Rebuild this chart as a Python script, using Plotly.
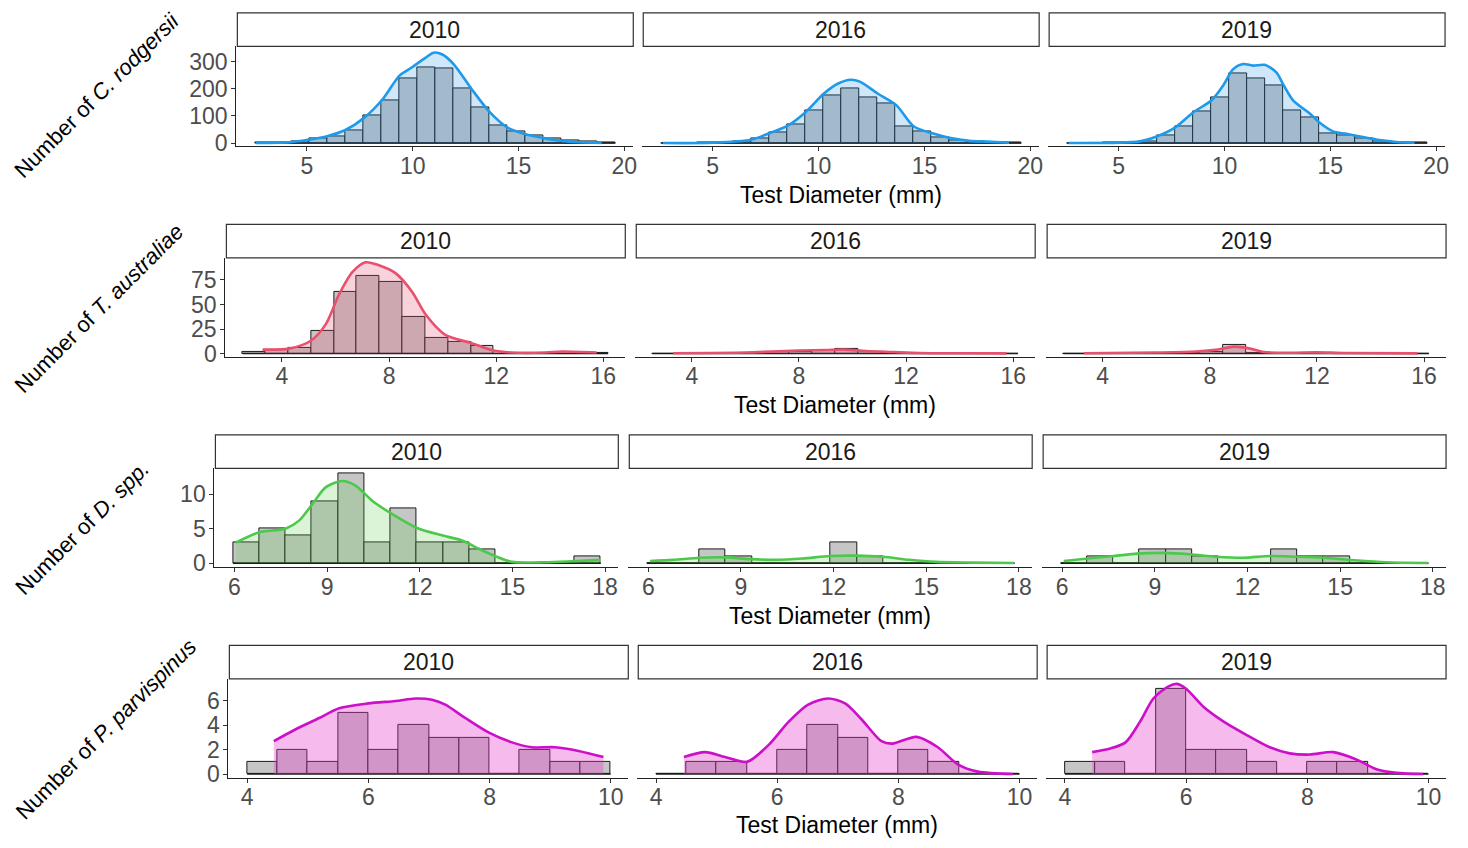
import numpy as np
import plotly.graph_objects as go

# ---------------------------------------------------------------- data
YEARS = ["2010", "2016", "2019"]
SPECIES = ["C. rodgersii", "T. australiae", "D. spp.", "P. parvispinus"]

# histogram bins: lower edge of first bin and bin width (mm)
C_BIN_START, C_BIN_WIDTH = 2.58, 0.85
T_BIN_START, T_BIN_WIDTH = 2.53, 0.853
D_BIN_START, D_BIN_WIDTH = 5.95, 0.851
P_BIN_START, P_BIN_WIDTH = 4.0, 0.5

# counts per bin
C_COUNTS_2010 = [1, 1, 4, 16, 24, 46, 101, 159, 237, 280, 277, 200, 133, 66, 44, 27, 17, 10, 5, 3]
C_COUNTS_2016 = [0, 0, 1, 2, 5, 18, 40, 69, 121, 176, 203, 170, 148, 63, 43, 22, 10, 5, 3, 2]
C_COUNTS_2019 = [0, 0, 1, 2, 6, 28, 61, 118, 170, 258, 239, 213, 122, 94, 34, 28, 18, 6, 2, 2]

T_COUNTS_2010 = [2, 4, 6, 23, 63, 79, 73, 37, 16, 12, 8, 0, 0, 0, 0, 1]
T_COUNTS_2016 = [0, 0, 0, 0, 0, 2, 2, 3, 5, 2, 1, 0, 0, 0, 0, 0]
T_COUNTS_2019 = [0, 0, 0, 0, 0, 1, 2, 9, 1, 0, 0, 1, 0, 0, 0, 0]

D_COUNTS_2010 = [3, 5, 4, 9, 13, 3, 8, 3, 3, 2, 0, 0, 0, 1]
D_COUNTS_2016 = [0, 0, 2, 1, 0, 0, 0, 3, 1, 0, 0, 0, 0, 0]
D_COUNTS_2019 = [0, 1, 0, 2, 2, 1, 0, 0, 2, 1, 1, 0, 0, 0]

P_COUNTS_2010 = [1, 2, 1, 5, 2, 4, 3, 3, 0, 2, 1, 1]
P_COUNTS_2016 = [0, 1, 1, 0, 2, 4, 3, 0, 2, 1, 0, 0]
P_COUNTS_2019 = [1, 1, 0, 7, 2, 2, 1, 0, 1, 1, 0, 0]

# kernel density scaled to counts (diameter, count)
C_DENS_X_2010 = [2.58, 4.2, 5.06, 5.96, 6.82, 7.69, 8.54, 9.39, 9.97, 10.6, 10.99, 11.38, 11.93, 12.78, 13.63, 14.48, 15.33, 16.2, 17.04, 17.89, 18.93]
C_DENS_Y_2010 = [0, 3, 12, 25, 48, 92, 158, 250, 280, 315, 334, 328, 292, 200, 115, 57, 32, 18, 8, 3, 0.5]
C_DENS_X_2016 = [2.64, 5.0, 6.81, 7.67, 8.54, 9.37, 10.24, 10.9, 11.52, 11.95, 12.81, 13.67, 14.5, 15.38, 16.24, 17.11, 17.97, 19.0]
C_DENS_Y_2016 = [0, 1, 12, 36, 64, 113, 182, 219, 234, 227, 182, 140, 61, 36, 18, 8, 5, 1]
C_DENS_X_2019 = [2.63, 6.0, 6.79, 7.66, 8.52, 9.39, 9.94, 10.41, 10.88, 11.35, 11.9, 12.45, 12.8, 13.24, 14.03, 14.53, 15.13, 15.75, 16.54, 17.33, 18.11, 18.98]
C_DENS_Y_2019 = [0, 6, 24, 57, 113, 158, 213, 273, 292, 286, 289, 261, 213, 158, 109, 73, 43, 34, 22, 11, 4, 1]

T_DENS_X_2010 = [3.28, 4.27, 5.08, 5.64, 6.13, 6.63, 7.13, 7.62, 8.24, 8.86, 9.36, 10.1, 11.03, 11.9, 12.58, 13.83, 14.45, 15.75]
T_DENS_Y_2010 = [4, 5, 13, 30, 60, 83, 93, 90, 82, 63, 40, 19, 11, 3, 1, 1, 2, 1]
T_DENS_X_2016 = [3.3, 6.0, 7.0, 8.0, 9.0, 9.7, 10.5, 11.5, 12.5, 14.0, 15.75]
T_DENS_Y_2016 = [0.3, 1, 2, 3, 3.5, 4, 2.5, 1.5, 0.5, 0.2, 0.1]
T_DENS_X_2019 = [3.3, 6.0, 7.5, 8.3, 8.9, 9.5, 10.0, 11.0, 12.0, 13.0, 15.75]
T_DENS_Y_2019 = [0.3, 1, 2, 4, 7, 5, 1.5, 0.8, 1.2, 0.5, 0.1]

D_DENS_X_2010 = [6.05, 6.81, 7.65, 8.1, 8.53, 8.96, 9.5, 9.93, 10.47, 11.11, 11.91, 12.75, 13.37, 13.91, 14.47, 14.99, 16.06, 16.92, 17.84]
D_DENS_Y_2010 = [3, 4.5, 5, 6.2, 8.6, 11, 11.9, 11.2, 9, 7.1, 5.1, 4, 3.3, 2.1, 1, 0.2, 0.15, 0.3, 0.5]
D_DENS_X_2016 = [6.05, 6.81, 7.67, 8.5, 9.28, 10.14, 11.0, 11.89, 12.73, 13.59, 14.45, 15.31, 16.49, 17.84]
D_DENS_Y_2016 = [0.33, 0.5, 0.8, 0.85, 0.6, 0.5, 0.7, 1.05, 1.1, 0.95, 0.5, 0.2, 0.1, 0.05]
D_DENS_X_2019 = [6.05, 6.81, 7.67, 8.42, 9.28, 10.14, 11.0, 11.86, 12.73, 13.59, 14.45, 15.31, 16.49, 17.84]
D_DENS_Y_2019 = [0.33, 0.7, 1.05, 1.4, 1.5, 1.3, 0.95, 0.8, 1.05, 0.95, 0.8, 0.5, 0.15, 0.05]

P_DENS_X_2010 = [4.44, 4.81, 5.19, 5.52, 6.0, 6.45, 6.78, 7.05, 7.27, 7.6, 7.99, 8.37, 8.7, 9.08, 9.47, 9.88]
P_DENS_Y_2010 = [2.7, 3.7, 4.6, 5.4, 5.8, 6.0, 6.2, 6.1, 5.7, 4.6, 3.4, 2.6, 2.2, 2.2, 1.9, 1.4]
P_DENS_X_2016 = [4.46, 4.81, 5.14, 5.5, 5.86, 6.19, 6.51, 6.84, 7.12, 7.39, 7.72, 7.9, 8.3, 8.65, 8.98, 9.31, 9.89]
P_DENS_Y_2016 = [1.4, 1.8, 1.4, 1.0, 2.4, 4.3, 5.7, 6.2, 5.8, 4.5, 2.7, 2.5, 3.05, 2.2, 0.8, 0.2, 0.0]
P_DENS_X_2019 = [4.45, 4.75, 5.0, 5.24, 5.46, 5.71, 5.85, 6.0, 6.29, 6.62, 7.0, 7.38, 7.71, 8.04, 8.43, 8.81, 9.14, 9.47, 9.91]
P_DENS_Y_2019 = [1.8, 2.1, 2.6, 4.3, 6.2, 7.2, 7.4, 7.0, 5.5, 4.3, 3.2, 2.2, 1.7, 1.6, 1.8, 1.2, 0.4, 0.1, 0.0]

X_TICKS = [[5, 10, 15, 20], [4, 8, 12, 16], [6, 9, 12, 15, 18], [4, 6, 8, 10]]
Y_TICKS = [[0, 100, 200, 300], [0, 25, 50, 75], [0, 5, 10], [0, 2, 4, 6]]

ROWS = [
    dict(start=C_BIN_START, width=C_BIN_WIDTH,
         counts=[C_COUNTS_2010, C_COUNTS_2016, C_COUNTS_2019],
         dens=[(C_DENS_X_2010, C_DENS_Y_2010), (C_DENS_X_2016, C_DENS_Y_2016), (C_DENS_X_2019, C_DENS_Y_2019)]),
    dict(start=T_BIN_START, width=T_BIN_WIDTH,
         counts=[T_COUNTS_2010, T_COUNTS_2016, T_COUNTS_2019],
         dens=[(T_DENS_X_2010, T_DENS_Y_2010), (T_DENS_X_2016, T_DENS_Y_2016), (T_DENS_X_2019, T_DENS_Y_2019)]),
    dict(start=D_BIN_START, width=D_BIN_WIDTH,
         counts=[D_COUNTS_2010, D_COUNTS_2016, D_COUNTS_2019],
         dens=[(D_DENS_X_2010, D_DENS_Y_2010), (D_DENS_X_2016, D_DENS_Y_2016), (D_DENS_X_2019, D_DENS_Y_2019)]),
    dict(start=P_BIN_START, width=P_BIN_WIDTH,
         counts=[P_COUNTS_2010, P_COUNTS_2016, P_COUNTS_2019],
         dens=[(P_DENS_X_2010, P_DENS_Y_2010), (P_DENS_X_2016, P_DENS_Y_2016), (P_DENS_X_2019, P_DENS_Y_2019)]),
]

# ---------------------------------------------------------------- style / layout
W, H = 1468, 848
FONT = "Liberation Sans, Arial, Helvetica, sans-serif"
TICK_SIZE = 23
TEXT_SIZE = 23
LINE_COLORS = ["#1E9AEB", "#E8506E", "#4CC94C", "#CC10C8"]
FILL_COLORS = ["rgba(40,145,230,0.22)", "rgba(232,80,110,0.25)",
               "rgba(90,200,70,0.22)", "rgba(230,60,200,0.35)"]
BAR_FILL = "#C6C6C6"

# panel geometry in pixels: x extents for the three panels, top and bottom
PANEL_X = [
    [(237, 635), (644, 1042), (1051, 1449)],
    [(226, 627), (637, 1038), (1049, 1450)],
    [(215, 620), (630, 1035), (1045, 1450)],
    [(229, 630), (639, 1040), (1049, 1450)],
]
PANEL_Y = [(47, 148), (261, 361), (474, 574), (687, 787)]
STRIP_H = 34
X_RANGES = [[1.67, 20.42], [1.89, 16.82], [5.35, 18.43], [3.69, 10.29]]
Y_RANGES = [[-12, 357], [-3.3, 97.5], [-0.57, 13.71], [-0.3, 7.81]]
YTITLE_POS = [(97, 97), (99, 312), (83, 534), (106, 738)]
XTITLE_Y = [197, 410, 623, 835]


def px(x):
    return x / W


def py(y):
    return 1 - y / H


fig = go.Figure()
layout = dict(
    width=W, height=H, margin=dict(l=0, r=0, t=0, b=0),
    paper_bgcolor="white", plot_bgcolor="white",
    showlegend=False, font=dict(family=FONT, color="#000000"),
    bargap=0, barmode="overlay",
)
shapes, annotations = [], []

for r, row in enumerate(ROWS):
    top, bottom = PANEL_Y[r]
    for c in range(3):
        n = r * 3 + c + 1
        xa, ya = f"x{n}", f"y{n}"
        left, right = PANEL_X[r][c]
        counts = row["counts"][c]
        nb = len(counts)
        centers = row["start"] + row["width"] * (np.arange(nb) + 0.5)
        edges = [row["start"], row["start"] + row["width"] * nb]

        # baseline of empty bins
        fig.add_trace(go.Scatter(x=edges, y=[0, 0], mode="lines",
                                 line=dict(color="#1a1a1a", width=1.6),
                                 xaxis=xa, yaxis=ya, hoverinfo="skip"))
        fig.add_trace(go.Bar(x=centers, y=counts, width=row["width"],
                             marker=dict(color=BAR_FILL, line=dict(color="#1a1a1a", width=1)),
                             xaxis=xa, yaxis=ya))
        dx, dy = row["dens"][c]
        fig.add_trace(go.Scatter(x=dx, y=dy, mode="lines", fill="tozeroy",
                                 fillcolor=FILL_COLORS[r],
                                 line=dict(color=LINE_COLORS[r], width=2.6, shape="spline", smoothing=0.8),
                                 xaxis=xa, yaxis=ya, hoverinfo="skip"))

        layout[f"xaxis{n}"] = dict(
            domain=[px(left), px(right)], range=X_RANGES[r], anchor=ya,
            showline=True, linecolor="#222222", linewidth=1.2,
            ticks="outside", ticklen=4, tickwidth=1, tickcolor="#333333",
            ticklabelstandoff=-5,
            tickvals=X_TICKS[r], tickfont=dict(size=TICK_SIZE, color="#4D4D4D", family=FONT),
            showgrid=False, zeroline=False, fixedrange=True,
        )
        yax = dict(domain=[py(bottom), py(top)], range=Y_RANGES[r], anchor=xa,
                   showgrid=False, zeroline=False, fixedrange=True)
        if c == 0:
            yax.update(showline=True, linecolor="#222222", linewidth=1.2,
                       ticks="outside", ticklen=4, tickwidth=1, tickcolor="#333333",
                       ticklabelstandoff=-1,
                       tickvals=Y_TICKS[r], tickfont=dict(size=TICK_SIZE, color="#4D4D4D", family=FONT))
        else:
            yax.update(visible=False)
        layout[f"yaxis{n}"] = yax

        # facet strip
        shapes.append(dict(type="rect", xref="paper", yref="paper",
                           x0=px(left + 1), x1=px(right), y0=py(top), y1=py(top - STRIP_H),
                           line=dict(color="#333333", width=1.2), fillcolor="white"))
        annotations.append(dict(text=YEARS[c], xref="paper", yref="paper",
                                x=px((left + right) / 2), y=py(top - STRIP_H / 2),
                                xanchor="center", yanchor="middle", showarrow=False,
                                font=dict(size=TEXT_SIZE, color="#1a1a1a", family=FONT)))

    # x axis title under the middle panel
    mid_l, mid_r = PANEL_X[r][1]
    annotations.append(dict(text="Test Diameter (mm)", xref="paper", yref="paper",
                            x=px((mid_l + mid_r) / 2), y=py(XTITLE_Y[r]),
                            xanchor="center", yanchor="middle", showarrow=False,
                            font=dict(size=TEXT_SIZE, color="#000000", family=FONT)))
    # rotated y axis title
    tx, ty = YTITLE_POS[r]
    annotations.append(dict(text=f"Number of <i>{SPECIES[r]}</i>", xref="paper", yref="paper",
                            x=px(tx), y=py(ty), xanchor="center", yanchor="middle",
                            textangle=-45, showarrow=False,
                            font=dict(size=22, color="#000000", family=FONT)))

layout["shapes"] = shapes
layout["annotations"] = annotations
fig.update_layout(**layout)
fig.write_html("out.html")
